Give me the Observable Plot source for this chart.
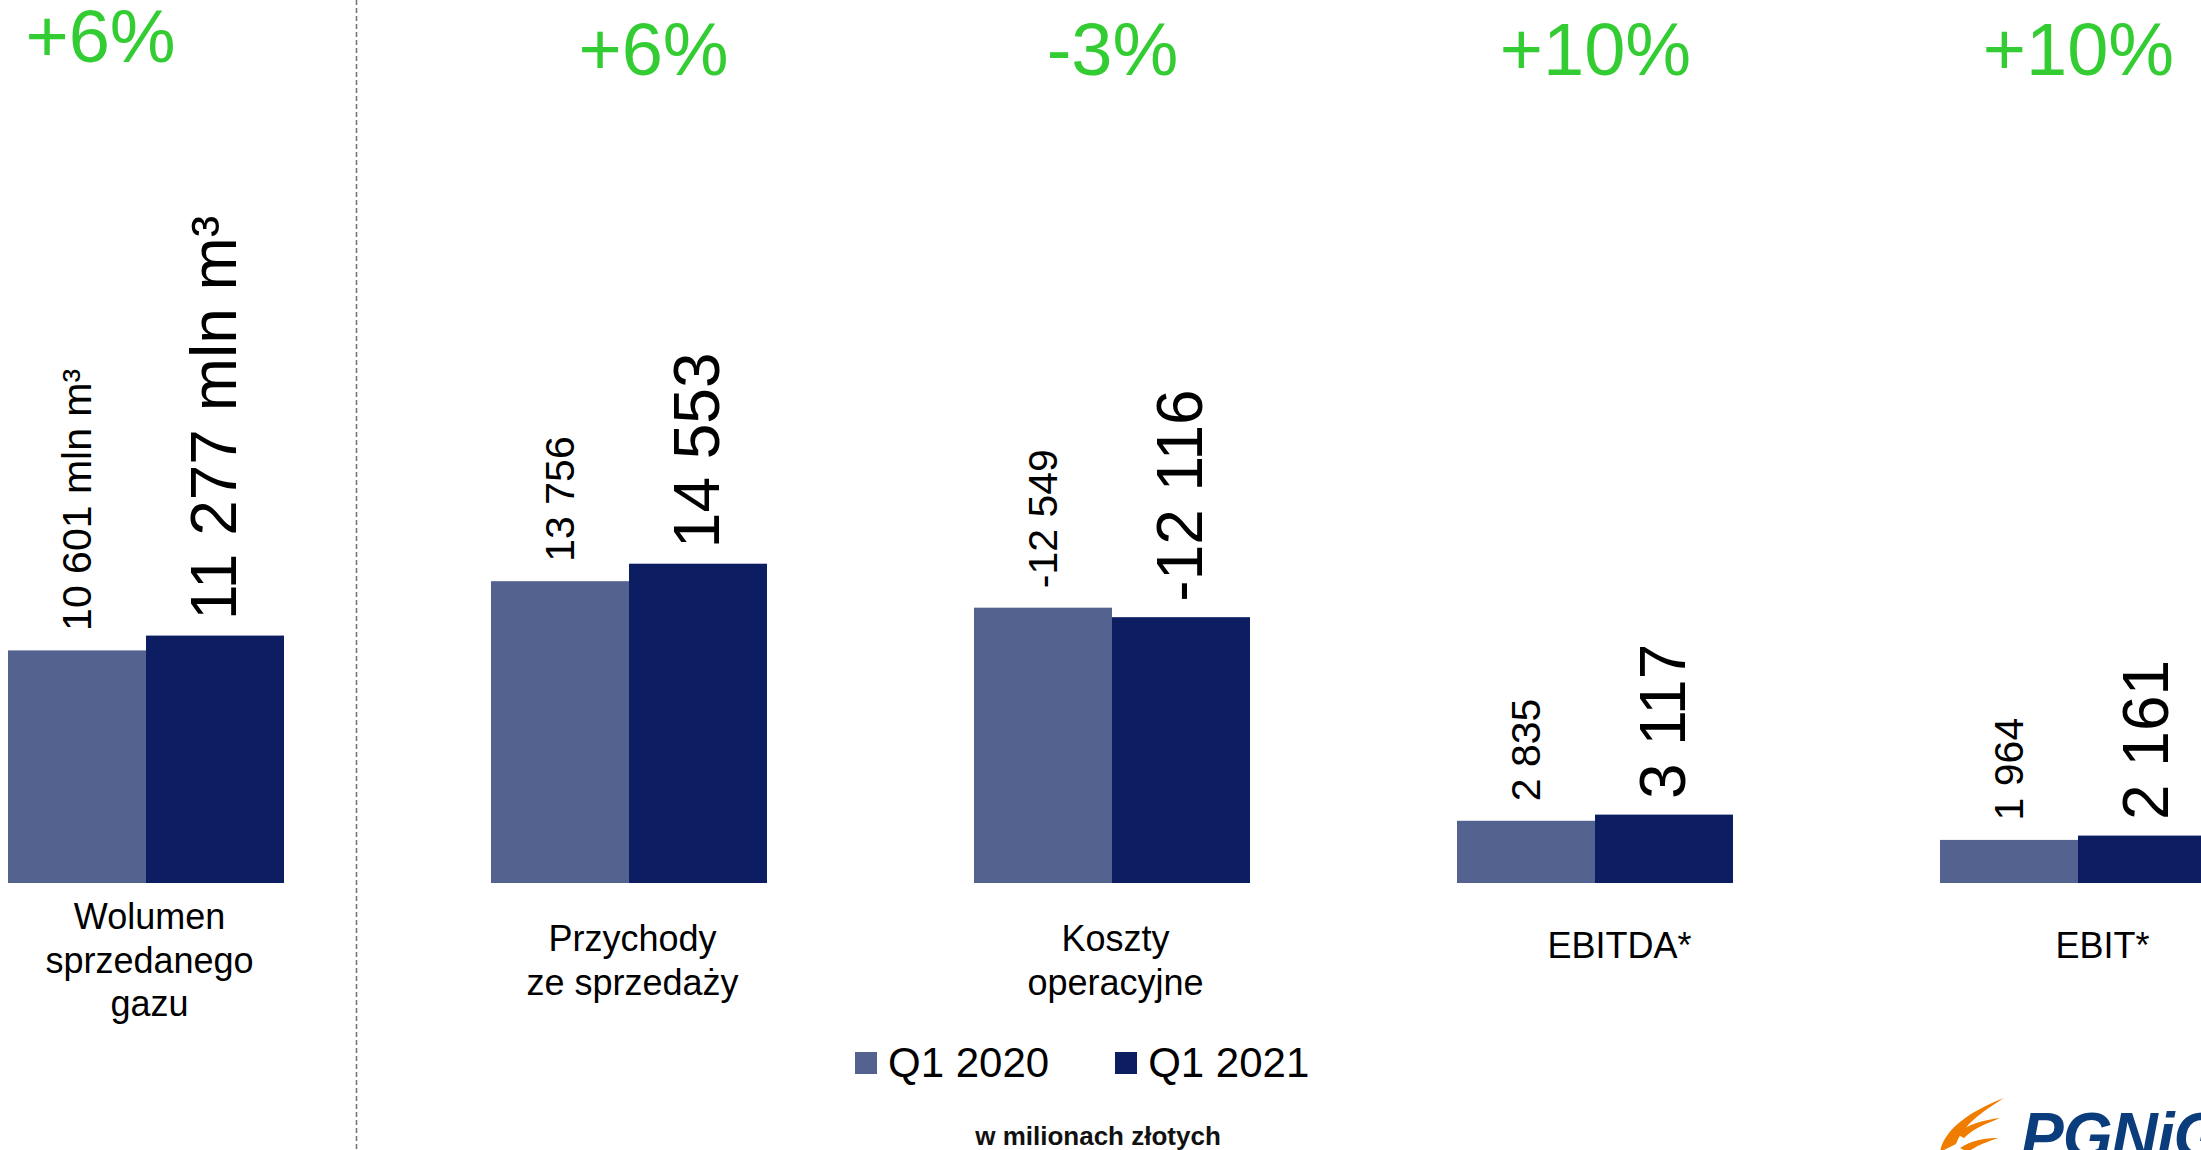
<!DOCTYPE html>
<html>
<head>
<meta charset="utf-8">
<script src="https://cdn.jsdelivr.net/npm/d3@7"></script>
<script src="https://cdn.jsdelivr.net/npm/@observablehq/plot@0.6"></script>
<style>
html, body { margin: 0; padding: 0; background: #fff; overflow: hidden; width: 2201px; height: 1150px; }
#wrap { position: relative; width: 2201px; height: 1150px; font-family: "Liberation Sans", Arial, sans-serif; }
#legend { position: absolute; left: 855px; top: 1039px; }
.lg-swatch { margin-right: 66px !important; }
.lg-swatch > svg { margin-right: 11px !important; }
#caption { position: absolute; left: 948px; width: 300px; top: 1121px; text-align: center; font-weight: bold; font-size: 26px; color: #111; }
#logo { position: absolute; left: 2021px; top: 1099px; font-size: 64px; font-weight: 900; font-style: italic; color: #0b3d7c; letter-spacing: -1px; white-space: nowrap; }
#flame { position: absolute; left: 1934px; top: 1094px; }
</style>
</head>
<body>
<div id="wrap"></div>
<script>
// ---- data ----
const categories = ["Wolumen sprzedanego gazu", "Przychody ze sprzedaży", "Koszty operacyjne", "EBITDA*", "EBIT*"];
const categoryLabels = ["Wolumen\nsprzedanego\ngazu", "Przychody\nze sprzedaży", "Koszty\noperacyjne", "EBITDA*", "EBIT*"];
const series = ["Q1 2020", "Q1 2021"];
const seriesColors = ["#53628f", "#0c1e61"];
const valuesQ1_2020 = [10601, 13756, -12549, 2835, 1964];
const valuesQ1_2021 = [11277, 14553, -12116, 3117, 2161];
const units = [" mln m³", "", "", "", ""];
const changes = ["+6%", "+6%", "-3%", "+10%", "+10%"];
const caption = "w milionach złotych";

const fmt = d3.formatLocale({decimal: ",", thousands: " ", grouping: [3], currency: ["", ""], minus: "-"}).format(",d");

const rows2020 = categories.map((c, i) => ({category: c, series: series[0], value: valuesQ1_2020[i], unit: units[i]}));
const rows2021 = categories.map((c, i) => ({category: c, series: series[1], value: valuesQ1_2021[i], unit: units[i]}));
const changeRows = categories.map((c, i) => ({category: c, change: changes[i], i}));
const labelRows = categories.map((c, i) => ({category: c, label: categoryLabels[i], i}));

const FONT = "'Liberation Sans', Arial, sans-serif";
const green = "#33cc33";

const chart = Plot.plot({
  width: 2201,
  height: 1150,
  marginTop: 0,
  marginBottom: 267,
  marginLeft: 0,
  marginRight: 0,
  style: {fontFamily: FONT, background: "#fff", overflow: "hidden"},
  x: {domain: categories, range: [77, 2147], paddingInner: 0.7143, paddingOuter: 0, axis: null},
  y: {domain: [0, 40246], axis: null},
  color: {domain: series, range: seriesColors},
  marks: [
    Plot.ruleX([categories[0]], {x: d => d, dx: 210, stroke: "#777", strokeWidth: 1.6, strokeDasharray: "5,3", insetBottom: -267}),
    Plot.barY(rows2020, {x: "category", y: d => Math.abs(d.value), fill: "series", dx: -69, inset: 0}),
    Plot.barY(rows2021, {x: "category", y: d => Math.abs(d.value), fill: "series", dx: 69, inset: 0}),
    Plot.text(rows2020, {x: "category", y: d => Math.abs(d.value), text: d => fmt(d.value) + d.unit,
      rotate: -90, textAnchor: "start", lineAnchor: "middle", dx: -69, dy: -20, fontSize: 41, fill: "#000"}),
    Plot.text(rows2021, {x: "category", y: d => Math.abs(d.value), text: d => fmt(d.value) + d.unit,
      rotate: -90, textAnchor: "start", lineAnchor: "middle", dx: 69, dy: -16, fontSize: 64, fill: "#000"}),
    Plot.text(changeRows.filter(d => d.i === 0), {x: "category", text: "change", frameAnchor: "top", lineAnchor: "middle", dx: -46, dy: 38, fontSize: 74, fill: green}),
    Plot.text(changeRows.filter(d => d.i === 1), {x: "category", text: "change", frameAnchor: "top", lineAnchor: "middle", dx: 24, dy: 51, fontSize: 74, fill: green}),
    Plot.text(changeRows.filter(d => d.i > 1), {x: "category", text: "change", frameAnchor: "top", lineAnchor: "middle", dx: 0, dy: 51, fontSize: 74, fill: green}),
    Plot.text(labelRows.filter(d => d.i < 3), {x: "category", text: "label", frameAnchor: "bottom", lineAnchor: "middle", lineHeight: 1.22, dx: 3, dy: 75, fontSize: 36, fill: "#000"}),
    Plot.text(labelRows.filter(d => d.i >= 3), {x: "category", text: "label", frameAnchor: "bottom", lineAnchor: "middle", dx: 24, dy: 63, fontSize: 36, fill: "#000"})
  ]
});

const wrap = document.getElementById("wrap");
wrap.appendChild(chart);

const legend = Plot.legend({
  legend: "swatches",
  color: {type: "ordinal", domain: series, range: seriesColors},
  swatchSize: 22,
  className: "lg",
  style: {fontSize: "42px", fontFamily: FONT, color: "#000", margin: "0"}
});
const legDiv = document.createElement("div");
legDiv.id = "legend";
legDiv.appendChild(legend);
wrap.appendChild(legDiv);

const cap = document.createElement("div");
cap.id = "caption";
cap.textContent = caption;
wrap.appendChild(cap);

const flame = document.createElementNS("http://www.w3.org/2000/svg", "svg");
flame.id = "flame";
flame.setAttribute("width", "80");
flame.setAttribute("height", "60");
flame.innerHTML = '<path d="M6,58 C10,36 34,18 70,4 C48,18 30,30 22,50 Z" fill="#ef7d00"/>' +
  '<path d="M22,40 C34,30 50,26 66,24 C52,30 40,34 30,44 Z" fill="#ef7d00"/>' +
  '<path d="M26,54 C38,46 52,44 64,44 C52,48 42,52 34,58 Z" fill="#ef7d00"/>';
wrap.appendChild(flame);

const logo = document.createElement("div");
logo.id = "logo";
logo.textContent = "PGNiG";
wrap.appendChild(logo);
</script>
</body>
</html>
